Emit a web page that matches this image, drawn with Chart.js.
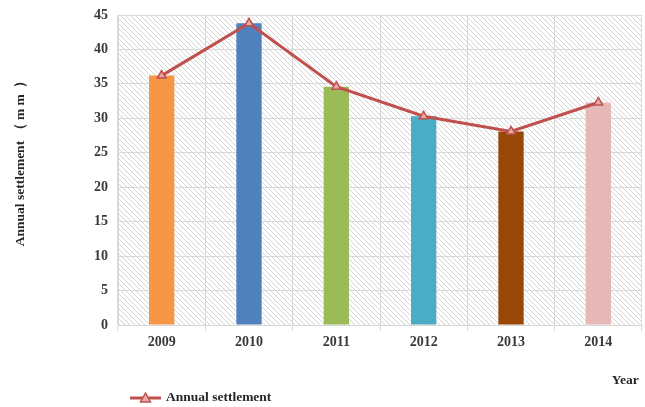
<!DOCTYPE html>
<html>
<head>
<meta charset="utf-8">
<script src="https://cdn.jsdelivr.net/npm/chart.js@4/dist/chart.umd.min.js"></script>
<style>
  html, body { margin: 0; padding: 0; background: #fff; }
  #wrap { width: 645px; height: 407px; }
</style>
</head>
<body>
<div id="wrap"><canvas id="chart" width="645" height="407"></canvas></div>
<script>
const years = ["2009", "2010", "2011", "2012", "2013", "2014"];
const settlement = [36.2, 43.8, 34.6, 30.3, 28.1, 32.3];
const barColors = ["#F79646", "#4F81BD", "#9BBB59", "#4BACC6", "#974806", "#E6B9B8"];
const yTicks = [0, 5, 10, 15, 20, 25, 30, 35, 40, 45];

const serif = "'Liberation Serif', 'Times New Roman', serif";
const lineRed = "#C0504D";

// diagonal hatch used behind the plot
function makeHatch() {
  const c = document.createElement("canvas");
  c.width = 5; c.height = 5;
  const g = c.getContext("2d");
  g.fillStyle = "#fff";
  g.fillRect(0, 0, 5, 5);
  g.strokeStyle = "#d4d4d4";
  g.lineWidth = 1;
  g.beginPath();
  g.moveTo(-1, -1); g.lineTo(6, 6);
  g.moveTo(-1, 4); g.lineTo(1, 6);
  g.moveTo(4, -1); g.lineTo(6, 1);
  g.stroke();
  return c;
}

const hatchBg = {
  id: "hatchBg",
  beforeDraw(chart) {
    const { ctx, chartArea: a } = chart;
    ctx.save();
    ctx.fillStyle = ctx.createPattern(makeHatch(), "repeat");
    ctx.fillRect(a.left, a.top, a.right - a.left, a.bottom - a.top);
    ctx.restore();
  }
};

// legend: line + triangle + label, bottom left
const lineLegend = {
  id: "lineLegend",
  afterDraw(chart) {
    const ctx = chart.ctx;
    const ds = chart.data.datasets[1];
    const y = 398, x0 = 130, x1 = 161, xm = 145.5;
    ctx.save();
    ctx.strokeStyle = lineRed;
    ctx.lineWidth = 3;
    ctx.beginPath();
    ctx.moveTo(x0, y); ctx.lineTo(x1, y);
    ctx.stroke();
    ctx.fillStyle = "#E8A8A6";
    ctx.lineWidth = 1.5;
    ctx.beginPath();
    ctx.moveTo(xm, y - 5); ctx.lineTo(xm + 5, y + 4); ctx.lineTo(xm - 5, y + 4);
    ctx.closePath();
    ctx.fill(); ctx.stroke();
    ctx.fillStyle = "#262626";
    ctx.font = "bold 13.5px " + serif;
    ctx.textBaseline = "middle";
    ctx.fillText(ds.label, 166, y);
    ctx.restore();
  }
};

new Chart(document.getElementById("chart"), {
  data: {
    labels: years,
    datasets: [
      {
        type: "bar",
        label: "bars",
        data: settlement,
        backgroundColor: barColors,
        barPercentage: 0.29,
        categoryPercentage: 1,
        order: 2
      },
      {
        type: "line",
        label: "Annual settlement",
        data: settlement,
        borderColor: lineRed,
        borderWidth: 3,
        tension: 0,
        pointStyle: "triangle",
        pointRadius: 5,
        pointBackgroundColor: "#E8A8A6",
        pointBorderColor: lineRed,
        pointBorderWidth: 1.5,
        order: 1
      }
    ]
  },
  options: {
    responsive: false,
    animation: false,
    layout: { autoPadding: false, padding: { top: 15, right: 3, bottom: 18, left: 0 } },
    plugins: {
      legend: { display: false },
      tooltip: { enabled: false }
    },
    scales: {
      x: {
        offset: true,
        grid: { offset: true, color: "#d9d9d9", tickLength: 6 },
        border: { color: "#d9d9d9" },
        ticks: { color: "#3a3a3a", font: { family: serif, weight: "bold", size: 14 }, padding: 3 },
        title: {
          display: true, text: "Year\u00a0", align: "end",
          color: "#262626", font: { family: serif, weight: "bold", size: 13.5 },
          padding: { top: 0, bottom: 0 }
        },
        afterFit(scale) {
          scale.height = 64;
          scale.paddingLeft = 0;
          scale.paddingRight = 0;
        }
      },
      y: {
        min: 0, max: 45,
        afterBuildTicks(scale) { scale.ticks = yTicks.map(v => ({ value: v })); },
        grid: { color: "#d9d9d9", drawTicks: false },
        border: { color: "#d9d9d9" },
        ticks: { color: "#3a3a3a", font: { family: serif, weight: "bold", size: 14 }, padding: 10 },
        title: {
          display: true, text: "\u00a0\u00a0\u00a0\u00a0\u00a0\u00a0Annual settlement\u00a0（\u00a0m\u00a0m\u00a0\u00a0）",
          color: "#262626", font: { family: serif, weight: "bold", size: 13.5 },
          padding: { top: 12, bottom: 0 }
        },
        afterFit(scale) {
          scale.width = 118;
          scale.paddingTop = 0;
          scale.paddingBottom = 0;
        }
      }
    }
  },
  plugins: [hatchBg, lineLegend]
});
</script>
</body>
</html>
